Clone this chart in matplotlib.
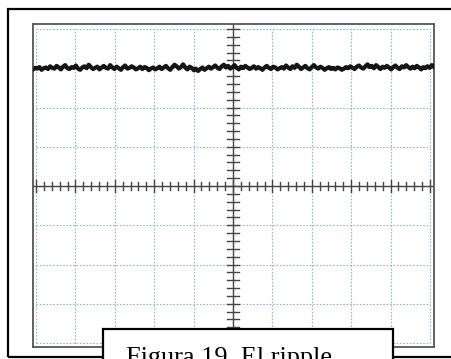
import numpy as np
import matplotlib.pyplot as plt
from matplotlib.patches import Rectangle

W, H = 451, 359

# oscilloscope screen: 10 x 8 divisions
x_divs = np.arange(-5, 6)
y_divs = np.arange(-4, 5)

# ripple trace, in divisions (sits ~3 div above center)
trace = [2.97, 3.01, 2.99, 3.03, 2.96, 3.00, 3.02, 2.98, 3.05, 3.01, 2.99, 3.06, 3.02, 2.97,
         3.04, 3.08, 3.00, 2.98, 3.03, 3.01, 3.07, 2.99, 2.96, 3.02, 3.05, 3.00, 3.09, 3.03,
         2.98, 3.01, 3.04, 2.97, 3.02, 3.06, 3.01, 2.99, 3.08, 3.02, 2.98, 3.04, 3.00, 2.96,
         3.03, 3.07, 2.99, 3.01, 3.05, 3.02, 2.97, 3.00, 3.04, 2.98, 3.03, 3.01, 2.95, 2.99,
         3.02, 2.97, 3.00, 3.04, 2.98, 3.02, 3.06, 3.00, 2.96, 3.03, 3.09, 3.05, 2.99, 3.03,
         3.10, 3.02, 2.97, 3.04, 3.01, 2.95, 2.99, 2.93, 2.98, 3.02, 2.96, 3.00, 3.04, 2.99,
         3.03, 3.07, 3.01, 2.98, 3.05, 3.09, 3.02, 3.06, 2.99, 3.03, 3.08, 3.01, 2.97, 3.04,
         3.00, 3.06, 3.02, 2.98, 3.01, 3.05, 2.99, 3.03, 3.00, 2.96, 3.02, 3.06, 3.01, 2.98,
         3.04, 3.02, 2.97, 3.00, 3.03, 2.99, 3.07, 3.02, 2.98, 3.05, 3.01, 3.09, 3.04, 2.98,
         3.02, 3.06, 3.00, 2.97, 3.03, 3.08, 3.02, 2.99, 3.04, 3.01, 2.96, 3.00, 3.03, 2.98,
         3.01, 2.97, 3.02, 3.00, 2.96, 2.99, 3.03, 3.00, 3.05, 3.01, 2.98, 3.04, 3.07, 3.02,
         2.99, 3.05, 3.10, 3.03, 3.06, 3.00, 3.08, 3.03, 2.98, 3.04, 3.01, 3.06, 3.02, 2.97,
         3.03, 3.07, 3.01, 2.98, 3.05, 3.02, 3.08, 3.03, 2.99, 3.04, 3.00, 3.06, 3.02, 2.97,
         3.03, 3.00, 3.05, 3.01, 3.08, 3.03]

caption = "Figura 19. El ripple"

fig = plt.figure(figsize=(W / 100, H / 100), dpi=100)

# outer black frame
fig.add_artist(Rectangle((8 / W, 1 - 357 / H), (460 - 8) / W, (357 - 9) / H,
                         transform=fig.transFigure, fill=False, ec='black', lw=1.6))

# screen area, px: x 33..434, y 24..347 ; grid 36..430 / 29..343
ax = fig.add_axes([33 / W, 1 - 347 / H, (434 - 33) / W, (347 - 24) / H])
px_x = (430 - 36) / 10
px_y = (343 - 29) / 8
cx, cy = 233, 186
ax.set_xlim((33 - cx) / px_x, (434 - cx) / px_x)
ax.set_ylim((cy - 347) / px_y, (cy - 24) / px_y)
ax.set_xticks([])
ax.set_yticks([])
for s in ax.spines.values():
    s.set_color('#555555')
    s.set_linewidth(1.3)

grid_col = '#9ab4cc'
for xv in x_divs:
    ax.plot([xv, xv], [-4, 4], color=grid_col, lw=0.8, ls=(0, (1.5, 1.5)), zorder=1)
for yv in y_divs:
    ax.plot([-5, 5], [yv, yv], color=grid_col, lw=0.8, ls=(0, (1.5, 1.5)), zorder=1)

# center axes with tick marks every 0.2 div
ax_col = '#444444'
ax.axhline(0, color=ax_col, lw=1.0, zorder=2)
ax.axvline(0, color=ax_col, lw=1.0, zorder=2)
ticks_x = np.round(np.arange(-5, 5.01, 0.2), 2)
ticks_y = np.round(np.arange(-4, 4.01, 0.2), 2)
for t in ticks_x:
    h = 0.16 if abs(t - round(t)) < 1e-6 else 0.11
    ax.plot([t, t], [-h, h], color=ax_col, lw=1.0, zorder=2)
for t in ticks_y:
    h = 0.16 if abs(t - round(t)) < 1e-6 else 0.14
    ax.plot([-h, h], [t, t], color=ax_col, lw=1.0, zorder=2)

# trace
tx = np.linspace((33 - cx) / px_x, (434 - cx) / px_x, len(trace))
ax.plot(tx, trace, color='#151515', lw=3.0, zorder=3)

# caption box, clipped by the bottom of the image
fig.add_artist(Rectangle((103 / W, -0.1), (393 - 103) / W, 0.1 + (359 - 329) / H,
                         transform=fig.transFigure, fc='white', ec='black', lw=1.6, zorder=5))
fig.text(126 / W, 1 - 364 / H, caption, fontsize=18.9, family='Liberation Serif',
         ha='left', va='baseline', zorder=6)

fig.savefig('out.png', dpi=100)
